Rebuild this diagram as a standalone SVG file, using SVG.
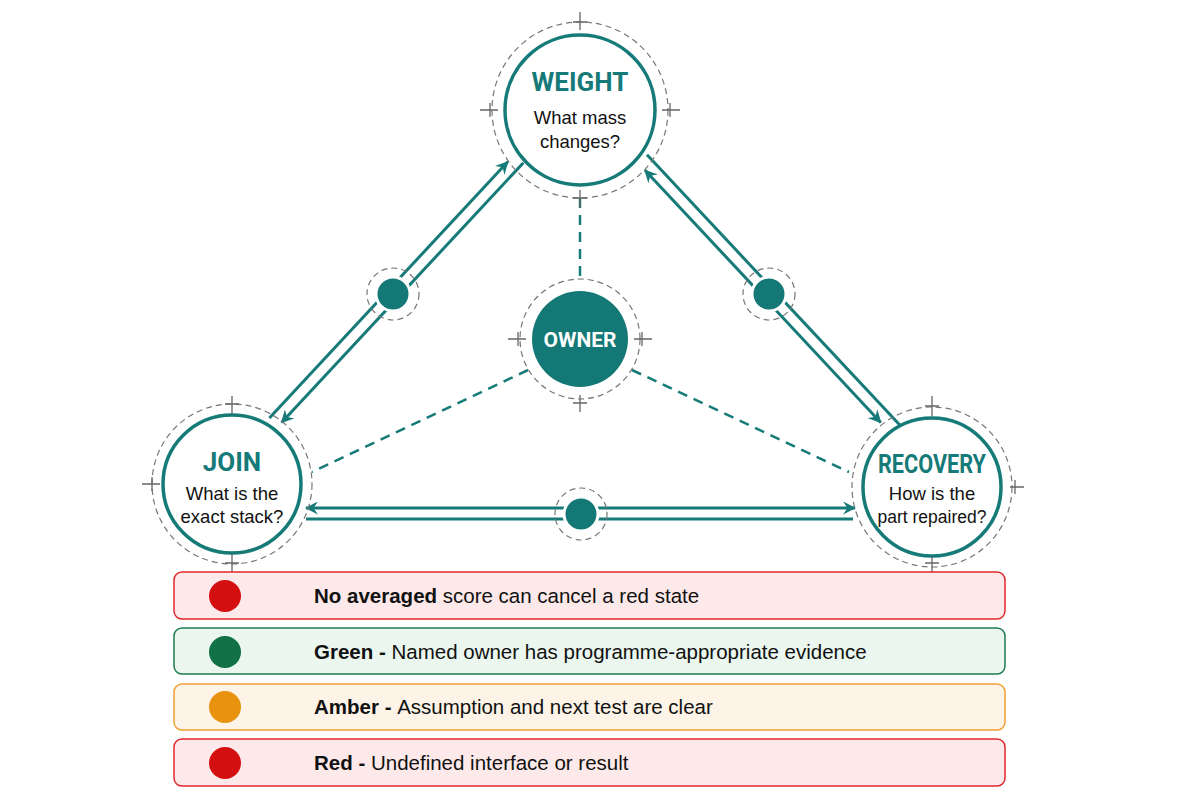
<svg xmlns="http://www.w3.org/2000/svg" width="1200" height="800" viewBox="0 0 1200 800">
<style>
.title{font-family:"Roboto","Liberation Sans",sans-serif;font-weight:700;fill:#157a78;font-size:26px;text-anchor:middle}
.q{font-family:"Liberation Sans",Arial,sans-serif;font-size:18.5px;fill:#111;text-anchor:middle}
.ring{fill:#fff;stroke:#157a78;stroke-width:3.5}
.dring{fill:none;stroke:#777;stroke-width:1.2;stroke-dasharray:6 4}
.tick{stroke:#666;stroke-width:1.3}
.ln{stroke:#157a78;stroke-width:3;fill:none}
.dash{stroke:#157a78;stroke-width:2.5;fill:none;stroke-dasharray:10 7}
.dot{fill:#137876;stroke:#fff;stroke-width:3}
.lg{font-family:"Liberation Sans",Arial,sans-serif;font-size:20.5px;fill:#111;font-weight:700}
.lr{font-weight:400}
</style>
<defs>
<marker id="ah" viewBox="0 0 12 12" refX="11" refY="6" markerWidth="13" markerHeight="13" markerUnits="userSpaceOnUse" orient="auto-start-reverse">
<path d="M0,0 L12,6 L0,12 L4,6 Z" fill="#157a78"/>
</marker>
</defs>
<rect width="1200" height="800" fill="#fff"/>
<g id="connectors">
<line class="dash" x1="580" y1="198" x2="580" y2="282"/>
<line class="dash" x1="528" y1="370" x2="312" y2="472"/>
<line class="dash" x1="632" y1="370" x2="849" y2="472"/>
<line class="ln" x1="269.4" y1="418" x2="507.8" y2="161.8" marker-end="url(#ah)"/>
<line class="ln" x1="523.4" y1="162.7" x2="281.6" y2="422.5" marker-end="url(#ah)"/>
<line class="ln" x1="880.7" y1="422.4" x2="645" y2="170.2" marker-end="url(#ah)" marker-start="url(#ah)"/>
<line class="ln" x1="647" y1="154.7" x2="899.8" y2="425.1"/>
<line class="ln" x1="306" y1="508" x2="855" y2="508" marker-end="url(#ah)" marker-start="url(#ah)"/>
<line class="ln" x1="306" y1="519" x2="853" y2="519"/>
</g>
<g id="weight">
<circle class="dring" cx="580" cy="110" r="88"/>
<circle class="ring" cx="580" cy="110" r="75"/>
<path class="tick" d="M580,12V30M573,22H587M480,110H498M490,103V117M662,110H680M670,103V117M580,190V208M573,198H587"/>
<text class="title" x="580" y="91">WEIGHT</text>
<text class="q" x="580" y="124">What mass</text>
<text class="q" x="580" y="148">changes?</text>
</g>
<g id="join">
<circle class="dring" cx="232" cy="484" r="80"/>
<circle class="ring" cx="232" cy="484" r="69"/>
<path class="tick" d="M232,396V414M225,404H239M142,484H160M152,477V491M232,554V572M225,563H239"/>
<text class="title" x="232" y="471">JOIN</text>
<text class="q" x="232" y="500">What is the</text>
<text class="q" x="232" y="523">exact stack?</text>
</g>
<g id="recovery">
<circle class="dring" cx="932" cy="487" r="80"/>
<circle class="ring" cx="932" cy="487" r="69"/>
<path class="tick" d="M932,396V416M925,406H939M1010,487H1024M1015,480V494M932,556V572M925,563H939"/>
<text class="title" x="932" y="473" textLength="108" lengthAdjust="spacingAndGlyphs">RECOVERY</text>
<text class="q" x="932" y="500">How is the</text>
<text class="q" x="932" y="523" style="font-size:17.5px">part repaired?</text>
</g>
<g id="owner">
<circle class="dring" cx="580" cy="339" r="60"/>
<circle cx="580" cy="339" r="48" fill="#137876"/>
<path class="tick" d="M508,339H526M518,332V346M634,339H652M642,332V346M580,395V412M573,403H587"/>
<text class="title" x="580" y="347" style="fill:#fff;font-size:21px">OWNER</text>
</g>
<g id="mid-left"><circle class="dring" cx="393" cy="294" r="26"/><circle class="dot" cx="393" cy="294" r="17"/></g>
<g id="mid-right"><circle class="dring" cx="769" cy="294" r="26"/><circle class="dot" cx="769" cy="294" r="17"/></g>
<g id="mid-bottom"><circle class="dring" cx="581" cy="514" r="26"/><circle class="dot" cx="581" cy="514" r="17"/></g>
<g id="legend-rule">
<rect x="174" y="572" width="831" height="47" rx="8" fill="#fde9e9" stroke="#e0282c" stroke-width="1.5"/>
<circle cx="225" cy="596" r="16" fill="#d40f10"/>
<text class="lg" x="314" y="603">No averaged <tspan class="lr">score can cancel a red state</tspan></text>
</g>
<g id="legend-green">
<rect x="174" y="628" width="831" height="46" rx="8" fill="#eaf6ee" stroke="#1e7a50" stroke-width="1.5"/>
<circle cx="225" cy="652" r="16" fill="#127146"/>
<text class="lg" x="314" y="659">Green - <tspan class="lr">Named owner has programme-appropriate evidence</tspan></text>
</g>
<g id="legend-amber">
<rect x="174" y="684" width="831" height="46" rx="8" fill="#fdf4e7" stroke="#f0a030" stroke-width="1.5"/>
<circle cx="225" cy="707" r="16" fill="#e8920f"/>
<text class="lg" x="314" y="714">Amber - <tspan class="lr">Assumption and next test are clear</tspan></text>
</g>
<g id="legend-red">
<rect x="174" y="739" width="831" height="47" rx="8" fill="#fde9e9" stroke="#e0282c" stroke-width="1.5"/>
<circle cx="225" cy="763" r="16" fill="#d40f10"/>
<text class="lg" x="314" y="770">Red - <tspan class="lr">Undefined interface or result</tspan></text>
</g>
</svg>
